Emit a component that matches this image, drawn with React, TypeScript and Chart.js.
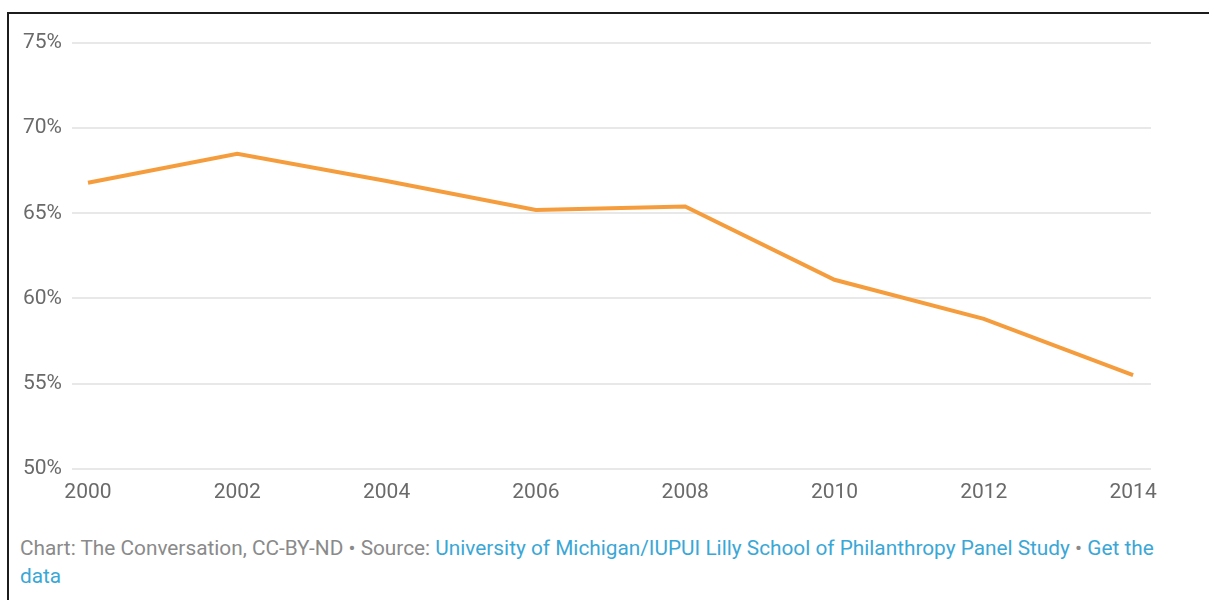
import React, { useEffect, useRef } from "react";
import { Chart, registerables } from "chart.js";

Chart.register(...registerables);

const years = [2000, 2002, 2004, 2006, 2008, 2010, 2012, 2014];
const shareGiving = [66.8, 68.5, 66.9, 65.2, 65.4, 61.1, 58.8, 55.5];
const xTickYears = [2000, 2002, 2004, 2006, 2008, 2010, 2012, 2014];
const yMin = 50;
const yMax = 75;
const yStep = 5;

const creditText = "Chart: The Conversation, CC-BY-ND • Source: ";
const sourceText = "University of Michigan/IUPUI Lilly School of Philanthropy Panel Study";
const getDataText = "Get the data";

export default function App() {
  const ref = useRef<HTMLCanvasElement | null>(null);

  useEffect(() => {
    if (!ref.current) return;
    const chart = new Chart(ref.current, {
      type: "line",
      data: {
        datasets: [
          {
            data: years.map((y, i) => ({ x: y, y: shareGiving[i] })),
            borderColor: "#F59D3D",
            borderWidth: 4,
            pointRadius: 0,
            tension: 0,
            fill: false,
          },
        ],
      },
      options: {
        animation: false,
        responsive: false,
        layout: { padding: { top: 43, right: 58, bottom: 10, left: 0 } },
        plugins: { legend: { display: false }, tooltip: { enabled: false } },
        scales: {
          x: {
            type: "linear",
            min: 1999.786,
            max: 2014.24,
            afterBuildTicks: (axis: any) => {
              axis.ticks = xTickYears.map((v) => ({ value: v }));
            },
            grid: { display: false, drawTicks: false },
            border: { display: false },
            ticks: {
              padding: 11,
              color: "#6a6a6a",
              font: { family: "Roboto", size: 21 },
              maxRotation: 0,
              autoSkip: false,
              callback: (v: any) => String(v),
            },
          },
          y: {
            min: yMin,
            max: yMax,
            afterFit: (s: any) => {
              s.width = 72;
            },
            grid: { color: "#e8e8e8", lineWidth: 2, drawTicks: false },
            border: { display: false },
            ticks: {
              stepSize: yStep,
              padding: 10,
              color: "#6a6a6a",
              font: { family: "Roboto", size: 21 },
              callback: (v: any) => v + "%",
            },
          },
        },
      },
    });
    return () => chart.destroy();
  }, []);

  return (
    <div style={{ position: "absolute", left: 0, top: 0, width: 1209, height: 600, background: "#fff", overflow: "hidden" }}>
      <div
        style={{
          position: "absolute",
          left: 7,
          top: 12,
          width: 1202,
          height: 588,
          boxSizing: "border-box",
          borderTop: "2px solid #1c1c1c",
          borderLeft: "2px solid #1c1c1c",
        }}
      />
      <canvas ref={ref} width={1209} height={526} style={{ position: "absolute", left: 0, top: 0 }} />
      <div
        style={{
          position: "absolute",
          left: 20,
          top: 534,
          width: 1150,
          fontFamily: "Roboto",
          fontSize: 20.8,
          lineHeight: "28px",
          color: "#8a8a8a",
        }}
      >
        {creditText}
        <span style={{ color: "#3aa7d6" }}>{sourceText}</span>
        {" • "}
        <span style={{ color: "#3aa7d6" }}>{getDataText}</span>
      </div>
    </div>
  );
}
